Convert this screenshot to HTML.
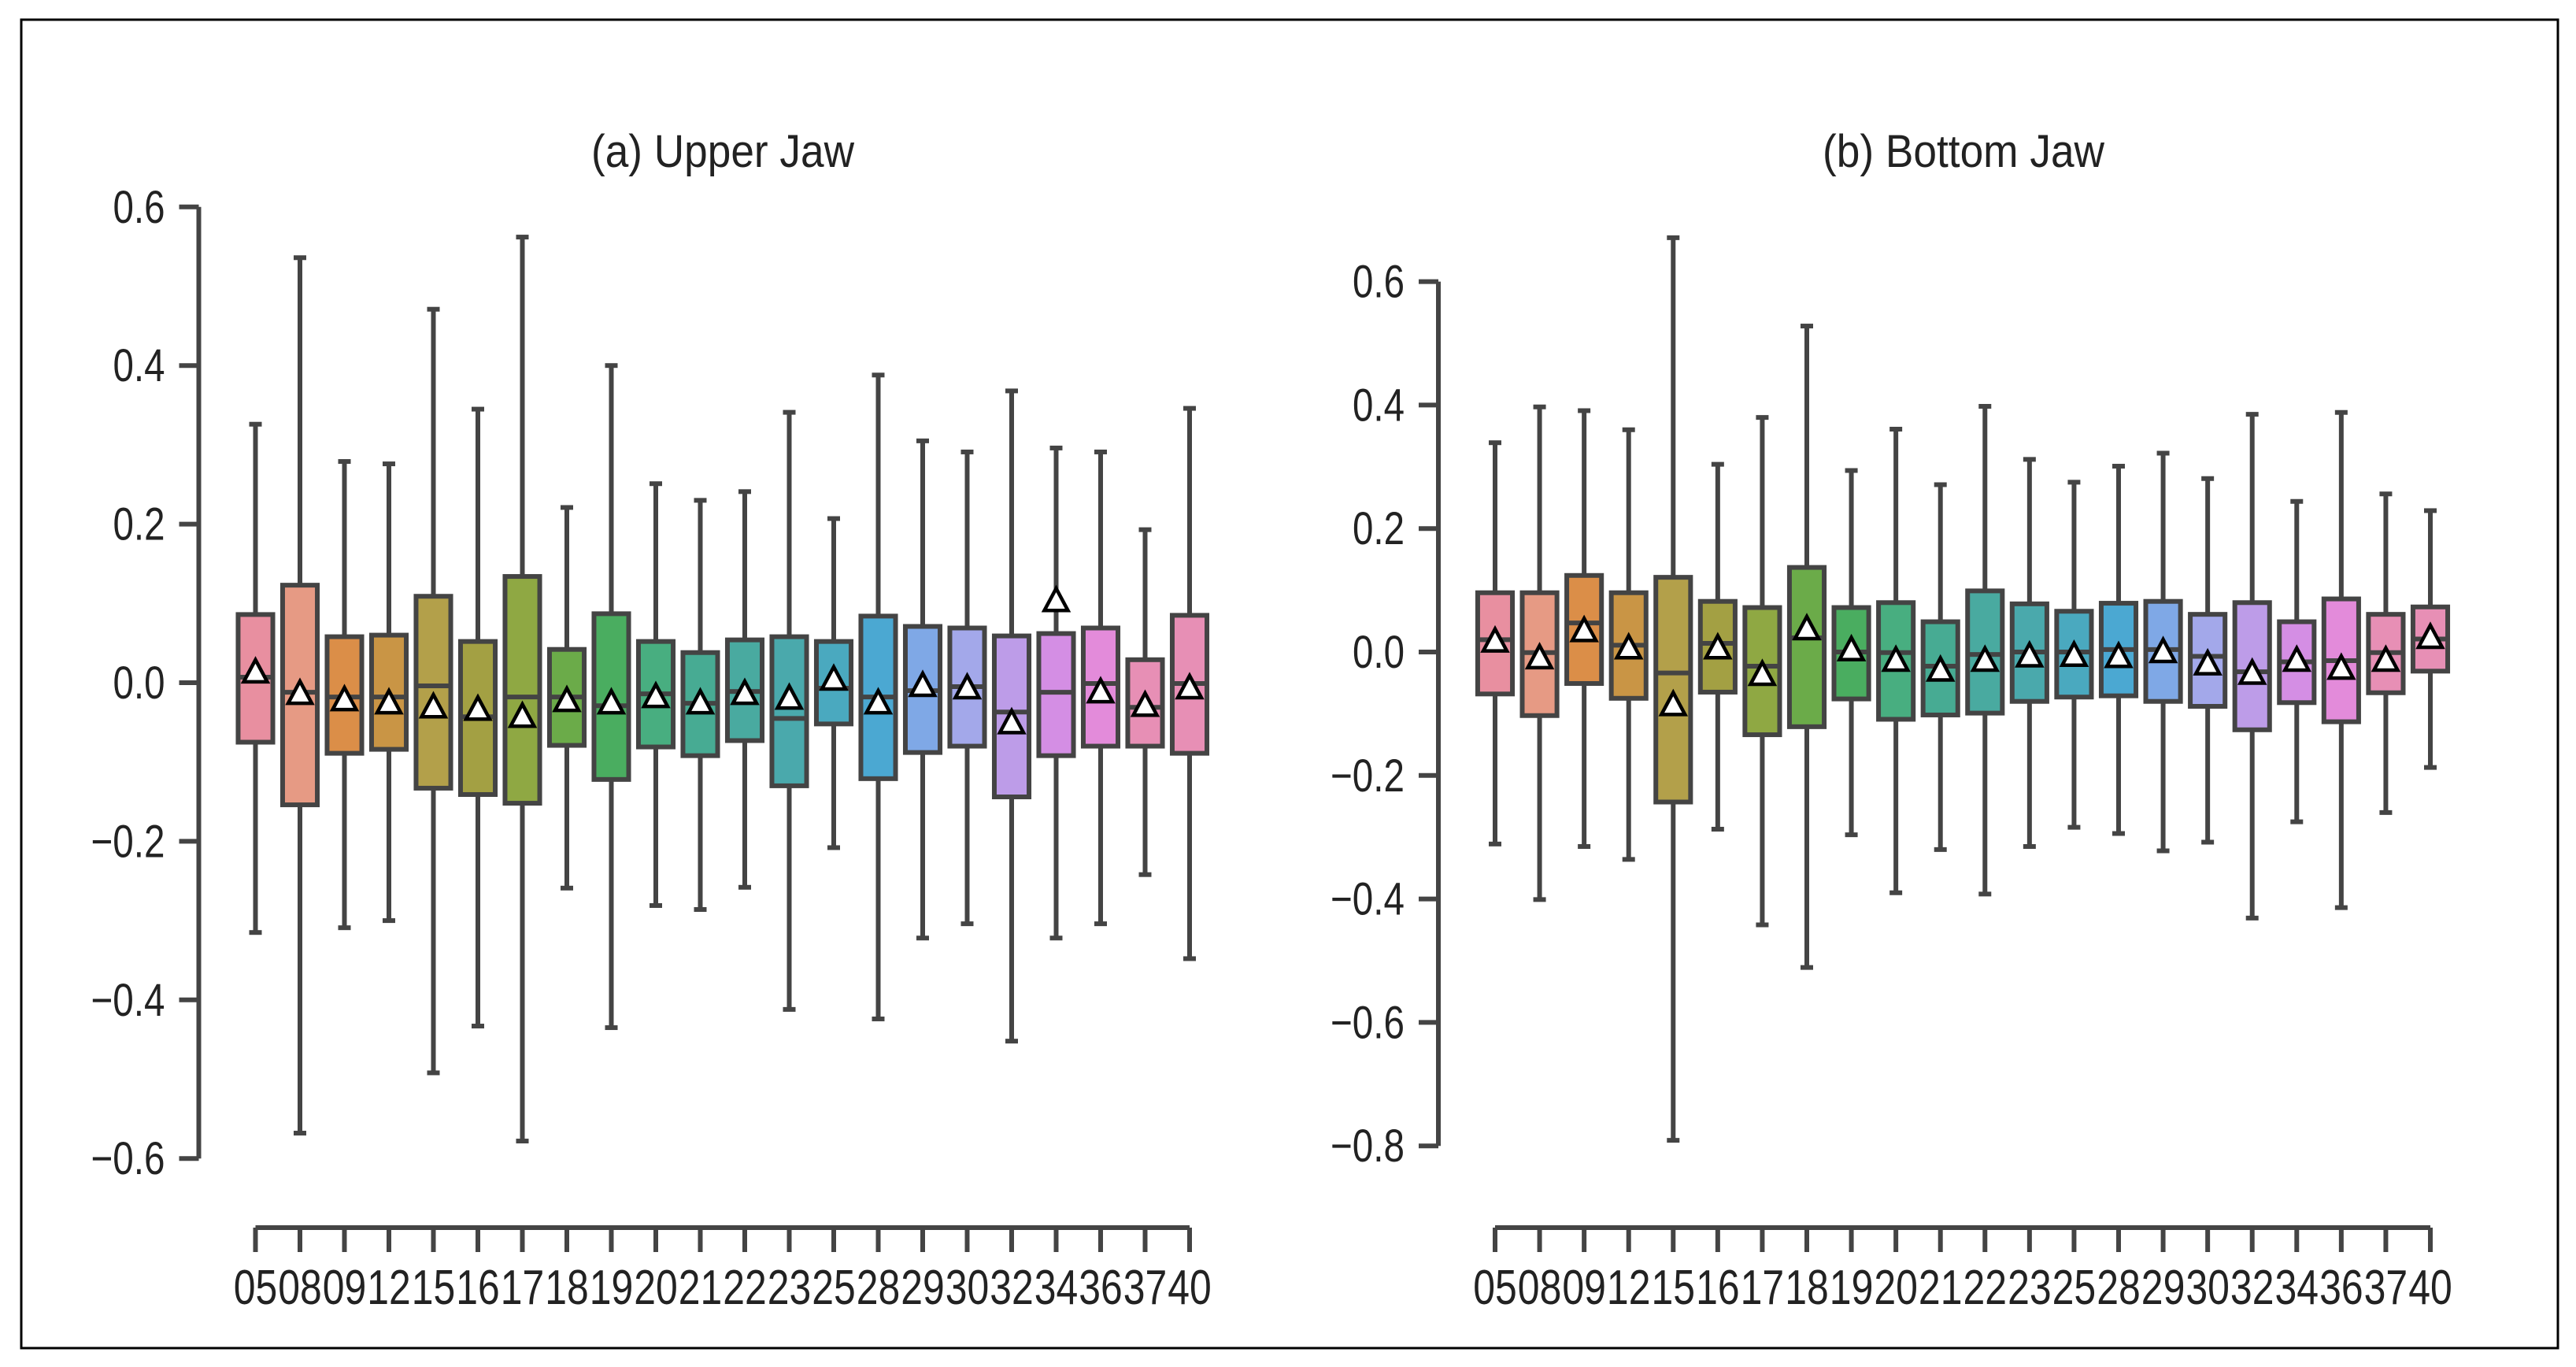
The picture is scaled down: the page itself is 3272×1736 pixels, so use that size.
<!DOCTYPE html>
<html><head><meta charset="utf-8"><style>
html,body{margin:0;padding:0;background:#fff;}
svg{display:block;font-family:"Liberation Sans Narrow","Liberation Sans",sans-serif;}
</style></head><body>
<svg id="chart" width="3272" height="1736" viewBox="0 0 3272 1736" xmlns="http://www.w3.org/2000/svg">
<rect x="27" y="25" width="3222" height="1687" fill="#fff" stroke="#000" stroke-width="3"/>
<g id="gA"></g>
<g id="gB"></g>
</svg>
<script>
const categories = ["05","08","09","12","15","16","17","18","19","20","21","22","23","25","28","29","30","32","34","36","37","40"].filter(c=>c!=="");
// Upper jaw
const upperWhiskTop = [0.326,0.536,0.279,0.276,0.471,0.345,0.562,0.221,0.400,0.251,0.230,0.241,0.341,0.207,0.388,0.305,0.291,0.368,0.296,0.291,0.193,0.346];
const upperQ3 = [0.086,0.123,0.058,0.060,0.109,0.052,0.134,0.042,0.087,0.052,0.038,0.054,0.058,0.052,0.084,0.071,0.069,0.059,0.062,0.069,0.029,0.085];
const upperMedian = [0.007,-0.012,-0.018,-0.018,-0.004,-0.043,-0.018,-0.018,-0.029,-0.014,-0.026,-0.011,-0.045,-0.007,-0.018,-0.010,-0.005,-0.037,-0.012,-0.001,-0.031,-0.001];
const upperQ1 = [-0.075,-0.154,-0.089,-0.084,-0.133,-0.141,-0.152,-0.079,-0.122,-0.081,-0.092,-0.073,-0.130,-0.052,-0.121,-0.088,-0.080,-0.144,-0.092,-0.080,-0.080,-0.089];
const upperWhiskBot = [-0.315,-0.568,-0.309,-0.300,-0.492,-0.433,-0.578,-0.259,-0.435,-0.281,-0.286,-0.258,-0.412,-0.208,-0.424,-0.322,-0.304,-0.452,-0.322,-0.304,-0.242,-0.348];
const upperMean = [0.013,-0.014,-0.022,-0.026,-0.031,-0.034,-0.043,-0.023,-0.026,-0.018,-0.026,-0.014,-0.020,0.004,-0.026,-0.004,-0.007,-0.051,0.103,-0.012,-0.029,-0.007];
// Bottom jaw
const lowerWhiskTop = [0.339,0.397,0.391,0.360,0.671,0.304,0.380,0.528,0.294,0.361,0.271,0.398,0.312,0.275,0.301,0.322,0.281,0.385,0.244,0.388,0.256,0.229];
const lowerQ3 = [0.096,0.096,0.124,0.096,0.121,0.082,0.072,0.137,0.072,0.080,0.049,0.099,0.078,0.066,0.079,0.082,0.061,0.080,0.049,0.086,0.061,0.073];
const lowerMedian = [0.020,-0.001,0.047,0.011,-0.034,0.014,-0.023,0.023,0.000,-0.001,-0.023,-0.004,0.000,0.000,0.004,0.004,-0.007,-0.032,-0.016,-0.014,-0.001,0.021];
const lowerQ1 = [-0.068,-0.103,-0.051,-0.075,-0.243,-0.065,-0.134,-0.121,-0.076,-0.109,-0.102,-0.099,-0.080,-0.073,-0.071,-0.080,-0.088,-0.126,-0.082,-0.113,-0.066,-0.031];
const lowerWhiskBot = [-0.311,-0.401,-0.315,-0.336,-0.791,-0.287,-0.442,-0.511,-0.296,-0.390,-0.320,-0.392,-0.315,-0.284,-0.294,-0.322,-0.308,-0.431,-0.275,-0.414,-0.260,-0.187];
const lowerMean = [0.017,-0.010,0.034,0.006,-0.086,0.006,-0.037,0.037,0.003,-0.014,-0.030,-0.014,-0.007,-0.006,-0.008,0.000,-0.020,-0.035,-0.014,-0.027,-0.014,0.023];
const upperTicks = [-0.6,-0.4,-0.2,0,0.2,0.4,0.6];
const lowerTicks = [-0.8,-0.6,-0.4,-0.2,0,0.2,0.4,0.6];
const colors = ["#e88fa0","#e69a84","#db8e48","#c99545","#b3a04a","#a3a043","#8fa843","#6bab49","#4aad60","#48ae80","#47ab93","#49aaa0","#4aa9ac","#4aa9bf","#4ba8d2","#7fa8e6","#a3a8ea","#bd9ce8","#d48ee4","#e38bda","#e78fb5","#e78fb5"];

const NS="http://www.w3.org/2000/svg";
function mk(parent,tag,attrs,txt){const e=document.createElementNS(NS,tag);for(const k in attrs)e.setAttribute(k,attrs[k]);if(txt!==undefined)e.textContent=txt;parent.appendChild(e);return e;}
const INK="#444";
const LW=6;

function panel(g,cfg){
  const n=categories.length;
  const xs=i=>cfg.x0+i*(cfg.x1-cfg.x0)/(n-1);
  const ys=v=>cfg.yZero-v*cfg.yScale;
  const sp=(cfg.x1-cfg.x0)/(n-1), bw=sp*0.78;
  const t=mk(g,"text",{x:cfg.titleX,y:212,"text-anchor":"middle","font-size":58,fill:"#222",textLength:cfg.titleW,lengthAdjust:"spacingAndGlyphs"},cfg.title);
  
  
  const tmin=cfg.ticks[0], tmax=cfg.ticks[cfg.ticks.length-1];
  const ya=mk(g,"line",{x1:cfg.axisX,x2:cfg.axisX,y1:ys(tmax),y2:ys(tmin),stroke:INK,"stroke-width":LW});
  
  
  cfg.ticks.forEach(v=>{
    mk(g,"line",{x1:cfg.axisX-25,x2:cfg.axisX,y1:ys(v),y2:ys(v),stroke:INK,"stroke-width":LW});
    const s=(v<0?"\u2212":"")+Math.abs(v).toFixed(1);
    const lt=mk(g,"text",{x:cfg.axisX-43,y:ys(v)+20,"text-anchor":"end","font-size":58,fill:"#222",textLength:v<0?94:66,lengthAdjust:"spacingAndGlyphs"},s);
    
    
  });
  const xa=mk(g,"line",{x1:xs(0),x2:xs(n-1),y1:1559,y2:1559,stroke:INK,"stroke-width":LW});
  
  
  for(let i=0;i<n;i++){
    const x=xs(i);
    mk(g,"line",{x1:x,x2:x,y1:1559,y2:1590,stroke:INK,"stroke-width":LW});
    const xl=mk(g,"text",{x:x,y:1656,"text-anchor":"middle","font-size":62,fill:"#222",textLength:sp-1,lengthAdjust:"spacingAndGlyphs"},categories[i]);
    
    
    const bg=mk(g,"g",{});
    
    
    const d=cfg.data;
    mk(bg,"line",{x1:x,x2:x,y1:ys(d.wt[i]),y2:ys(d.q3[i]),stroke:INK,"stroke-width":LW});
    mk(bg,"line",{x1:x,x2:x,y1:ys(d.q1[i]),y2:ys(d.wb[i]),stroke:INK,"stroke-width":LW});
    mk(bg,"line",{x1:x-8,x2:x+8,y1:ys(d.wt[i]),y2:ys(d.wt[i]),stroke:INK,"stroke-width":LW});
    mk(bg,"line",{x1:x-8,x2:x+8,y1:ys(d.wb[i]),y2:ys(d.wb[i]),stroke:INK,"stroke-width":LW});
    mk(bg,"rect",{x:x-bw/2,y:ys(d.q3[i]),width:bw,height:ys(d.q1[i])-ys(d.q3[i]),fill:colors[i],stroke:INK,"stroke-width":LW});
    mk(bg,"line",{x1:x-bw/2,x2:x+bw/2,y1:ys(d.med[i]),y2:ys(d.med[i]),stroke:INK,"stroke-width":LW});
    const my=ys(d.mean[i]);
    const tri=mk(bg,"polygon",{points:`${x},${my-16} ${x-15},${my+12} ${x+15},${my+12}`,fill:"#fff",stroke:"#000","stroke-width":4.5,"stroke-linejoin":"miter"});
    
    
  }
}
panel(document.getElementById("gA"),{x0:324.5,x1:1511,yZero:867,yScale:1007,axisX:252.5,ticks:upperTicks,title:"(a) Upper Jaw",titleX:918,titleW:334,
  data:{wt:upperWhiskTop,q3:upperQ3,med:upperMedian,q1:upperQ1,wb:upperWhiskBot,mean:upperMean}});
panel(document.getElementById("gB"),{x0:1899,x1:3087,yZero:828,yScale:784,axisX:1827,ticks:lowerTicks,title:"(b) Bottom Jaw",titleX:2494,titleW:358,
  data:{wt:lowerWhiskTop,q3:lowerQ3,med:lowerMedian,q1:lowerQ1,wb:lowerWhiskBot,mean:lowerMean}});
</script>
</body></html>
